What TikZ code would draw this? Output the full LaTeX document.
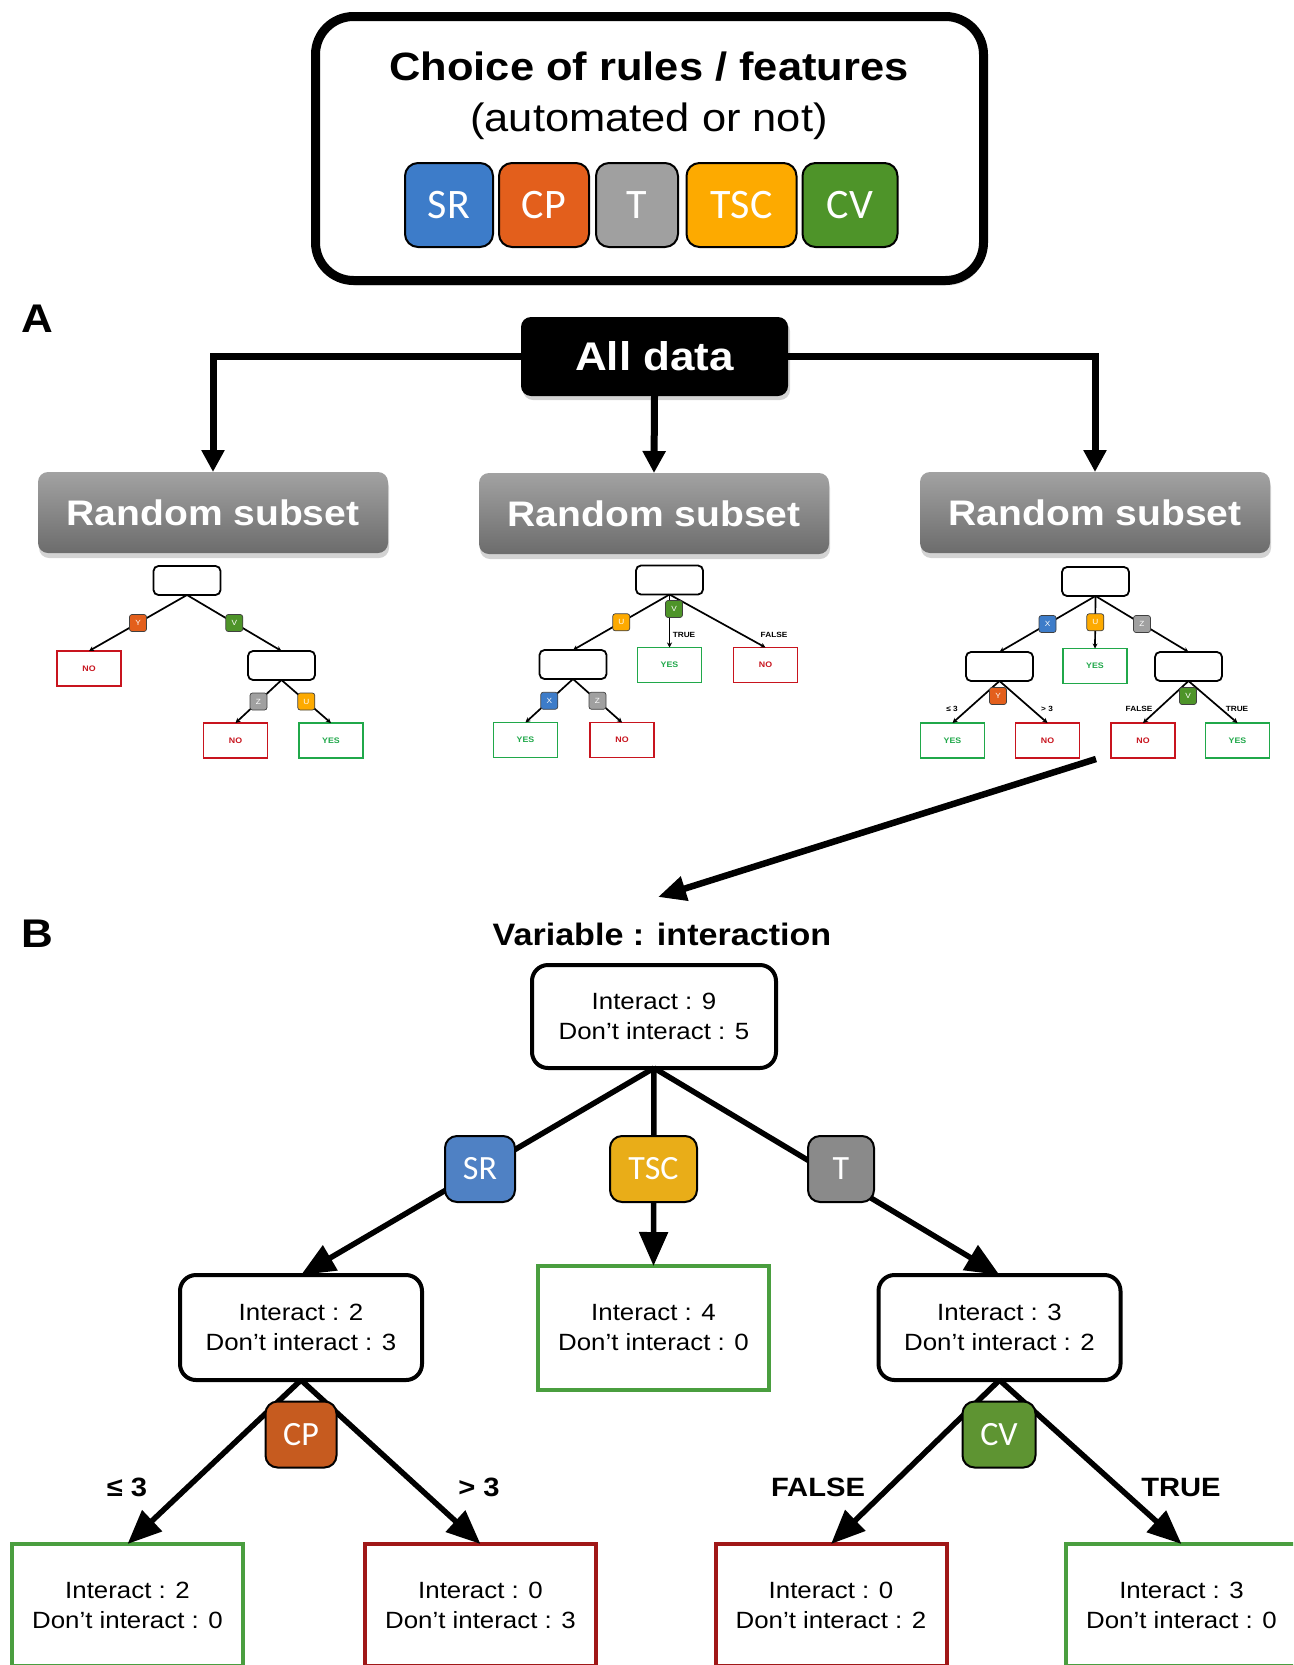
\documentclass[tikz,border=0pt]{standalone}
\usepackage{fontspec}
\setmainfont{Liberation Sans}[FakeStretch=1.1]
\newfontfamily\calib{Carlito}
\usetikzlibrary{arrows.meta,shadows}
\newcommand\myfs[2]{\fontsize{#1}{#2}\selectfont}
\definecolor{sr}{HTML}{3D7CC9}
\definecolor{cp}{HTML}{E35F1C}
\definecolor{tg}{HTML}{A0A0A0}
\definecolor{tsc}{HTML}{FDAA00}
\definecolor{cv}{HTML}{4E9429}
\definecolor{srB}{HTML}{4F81C4}
\definecolor{cpB}{HTML}{C65B1F}
\definecolor{tgB}{HTML}{8A8A8A}
\definecolor{tscB}{HTML}{E9AD18}
\definecolor{cvB}{HTML}{5E9432}
\definecolor{gB}{HTML}{4A9E3F}
\definecolor{rB}{HTML}{A01818}
\definecolor{sNo}{HTML}{C8141E}
\definecolor{sYes}{HTML}{20A84A}
\definecolor{rsTop}{HTML}{A2A2A2}
\definecolor{rsBot}{HTML}{6C6C6C}
\begin{document}
\begin{tikzpicture}[x=1pt,y=-1pt,
  every node/.style={inner sep=0pt, outer sep=0pt},
  topbox/.style={draw, line width=9pt, rounded corners=38pt, fill=white,
    drop shadow={opacity=0.25, shadow xshift=2pt, shadow yshift=-5pt}},
  tlab/.style={draw, line width=2pt, rounded corners=13pt, minimum height=84pt,
    text=white, font=\calib\myfs{42}{42}},
  alld/.style={fill=black, rounded corners=10pt, minimum width=267pt, minimum height=79pt,
    text=white, font=\myfs{40}{40}\bfseries,
    drop shadow={opacity=0.35, shadow xshift=2pt, shadow yshift=-4pt}},
  rsub/.style={rounded corners=10pt, minimum width=350pt, minimum height=81pt,
    top color=rsTop, bottom color=rsBot, text=white, font=\myfs{35.5}{35.5}\bfseries,
    drop shadow={opacity=0.35, shadow xshift=1pt, shadow yshift=-5pt}},
  aA/.style={line width=7pt, -{Triangle[length=22pt,width=22pt]}},
  sroot/.style={draw, line width=1.8pt, rounded corners=5pt, minimum width=67pt,
    minimum height=29pt, fill=white},
  sno/.style={draw=sNo, line width=1.7pt, minimum width=64pt, minimum height=35pt,
    text=sNo, font=\myfs{8}{8}\bfseries, fill=white},
  syes/.style={draw=sYes, line width=1.7pt, minimum width=64pt, minimum height=35pt,
    text=sYes, font=\myfs{8}{8}\bfseries, fill=white},
  slab/.style={draw=black!75, line width=0.7pt, rounded corners=2.5pt, minimum size=17pt,
    text=white, font=\myfs{7.5}{7.5}},
  stxt/.style={font=\myfs{7.5}{7.5}\bfseries},
  sedge/.style={line width=1.7pt, -{Stealth[length=5pt,width=5pt]}},
  bbox/.style={draw, line width=4pt, rounded corners=16pt, fill=white, align=center,
    font=\myfs{23.5}{30}},
  gbox/.style={draw=gB, line width=4pt, fill=white, align=center, font=\myfs{23.5}{30}},
  rbox/.style={draw=rB, line width=4pt, fill=white, align=center, font=\myfs{23.5}{30}},
  blab/.style={draw, line width=2pt, rounded corners=12pt, minimum height=66pt,
    text=white, font=\calib\myfs{34}{34}},
  btxt/.style={font=\myfs{26.5}{26.5}\bfseries},
  bE/.style={line width=5.5pt, -{Triangle[length=34pt,width=28pt]}},
  panel/.style={font=\myfs{40}{40}\bfseries, anchor=base west}
]
\useasboundingbox (0,0) rectangle (1293,1665);
\clip (0,0) rectangle (1293,1665);

% ---------- top box ----------
\node[topbox, minimum width=668pt, minimum height=264pt] (top) at (649.5,148.5) {};
\node[anchor=base, font=\myfs{39.5}{45}\bfseries] (title) at (649,80) {Choice of rules / features};
\node[anchor=base, font=\myfs{39.5}{45}] (subtitle) at (649,131) {(automated or not)};
\node[tlab, fill=sr, minimum width=88pt] (tSR) at (449,205) {SR};
\node[tlab, fill=cp, minimum width=90pt] (tCP) at (544,205) {CP};
\node[tlab, fill=tg, minimum width=82pt] (tT) at (637,205) {T};
\node[tlab, fill=tsc, minimum width=110pt] (tTSC) at (741.5,205) {TSC};
\node[tlab, fill=cv, minimum width=95pt] (tCV) at (850,205) {CV};

% ---------- section A ----------
\node[panel] (labA) at (21,332) {A};
\node[alld] (all) at (654.5,356.5) {All data};
\node[rsub] (rs1) at (213,512.5) {Random subset};
\node[rsub] (rs2) at (654,513.5) {Random subset};
\node[rsub] (rs3) at (1095,512.5) {Random subset};
\draw[aA] (all.west) -| (rs1.north);
\draw[aA] (all.east) -| (rs3.north);
\draw[aA] (all.south) -- (rs2.north);

% tree 1
\node[sroot] (r1) at (187,580.5) {};
\node[sno] (t1a) at (89,668.5) {NO};
\node[sroot] (m1) at (281.5,665.5) {};
\node[sno] (t1b) at (235.5,740.5) {NO};
\node[syes] (t1c) at (331,740.5) {YES};
\draw[sedge] (r1.south) -- node[slab,fill=cp] (l1y) {Y} (t1a.north);
\draw[sedge] (r1.south) -- node[slab,fill=cv] (l1v) {V} (m1.north);
\draw[sedge] (m1.south) -- node[slab,fill=tg] (l1z) {Z} (t1b.north);
\draw[sedge] (m1.south) -- node[slab,fill=tsc] (l1u) {U} (t1c.north);

% tree 2
\node[sroot] (r2) at (669.5,580) {};
\node[sroot] (m2) at (573,664.5) {};
\node[syes] (t2a) at (669.5,665) {YES};
\node[sno] (t2b) at (765.5,665) {NO};
\node[syes] (t2c) at (525.5,740) {YES};
\node[sno] (t2d) at (622,740) {NO};
\draw[sedge] (r2.south) -- node[slab,fill=tsc] (l2u) {U} (m2.north);
\draw[sedge] (r2.south) -- (t2a.north);
\draw[sedge] (r2.south) -- (t2b.north);
\node[slab,fill=cv] (l2v) at (674,609) {V};
\node[stxt] (l2true) at (684,635) {TRUE};
\node[stxt] (l2false) at (774,635) {FALSE};
\draw[sedge] (m2.south) -- node[slab,fill=sr] (l2x) {X} (t2c.north);
\draw[sedge] (m2.south) -- node[slab,fill=tg] (l2z) {Z} (t2d.north);

% tree 3
\node[sroot] (r3) at (1095.5,581.5) {};
\node[sroot] (l3) at (999.5,666.5) {};
\node[syes] (y3) at (1095,666) {YES};
\node[sroot] (rr3) at (1188.5,666.5) {};
\node[syes] (t3a) at (952.5,740.5) {YES};
\node[sno] (t3b) at (1047.5,740.5) {NO};
\node[sno] (t3c) at (1143,740.5) {NO};
\node[syes] (t3d) at (1237.5,740.5) {YES};
\draw[sedge] (r3.south) -- node[slab,fill=sr] (l3x) {X} (l3.north);
\draw[sedge] (r3.south) -- node[slab,fill=tsc] (l3u) {U} (y3.north);
\draw[sedge] (r3.south) -- node[slab,fill=tg] (l3z) {Z} (rr3.north);
\draw[sedge] (l3.south) -- (t3a.north);
\draw[sedge] (l3.south) -- (t3b.north);
\draw[sedge] (rr3.south) -- (t3c.north);
\draw[sedge] (rr3.south) -- (t3d.north);
\node[slab,fill=cp] (l3y) at (998,696) {Y};
\node[slab,fill=cv] (l3v) at (1188,696) {V};
\node[stxt] (l3le) at (952,709) {≤ 3};
\node[stxt] (l3gt) at (1047,709) {> 3};
\node[stxt] (l3false) at (1139,709) {FALSE};
\node[stxt] (l3true) at (1237,709) {TRUE};

% big arrow
\coordinate (bigS) at (1096,759);
\coordinate (bigE) at (658,897);
\draw[line width=6.5pt, -{Triangle[length=28pt,width=24pt]}] (bigS) -- (bigE);

% ---------- section B ----------
\node[panel] (labB) at (21,947) {B};
\node[anchor=base, font=\myfs{31}{31}\bfseries] (var) at (662,945) {Variable : interaction};
\node[bbox, minimum width=244pt, minimum height=103pt] (root) at (654,1016.5) {Interact : 9\\Don’t interact : 5};
\node[bbox, minimum width=242pt, minimum height=105pt] (ln) at (301,1327.5) {Interact : 2\\Don’t interact : 3};
\node[gbox, minimum width=231pt, minimum height=124pt] (mn) at (653.5,1328) {Interact : 4\\Don’t interact : 0};
\node[bbox, minimum width=242pt, minimum height=105pt] (rn) at (999.5,1327.5) {Interact : 3\\Don’t interact : 2};
\node[gbox, minimum width=231pt, minimum height=122pt] (b1) at (127.5,1605) {Interact : 2\\Don’t interact : 0};
\node[rbox, minimum width=231pt, minimum height=122pt] (b2) at (480.5,1605) {Interact : 0\\Don’t interact : 3};
\node[rbox, minimum width=231pt, minimum height=122pt] (b3) at (831,1605) {Interact : 0\\Don’t interact : 2};
\node[gbox, minimum width=231pt, minimum height=122pt] (b4) at (1181.5,1605) {Interact : 3\\Don’t interact : 0};

\draw[bE] (root.south) -- (ln.north);
\draw[bE] (root.south) -- (mn.north);
\draw[bE] (root.south) -- (rn.north);
\node[blab, fill=srB, minimum width=70pt] (bSR) at (480,1169) {SR};
\node[blab, fill=tscB, minimum width=87pt] (bTSC) at (653.5,1169) {TSC};
\node[blab, fill=tgB, minimum width=66pt] (bT) at (841,1169) {T};

\draw[bE] (ln.south) -- (b1.north);
\draw[bE] (ln.south) -- (b2.north);
\draw[bE] (rn.south) -- (b3.north);
\draw[bE] (rn.south) -- (b4.north);
\node[blab, fill=cpB, minimum width=71pt] (bCP) at (301,1434.5) {CP};
\node[blab, fill=cvB, minimum width=73pt] (bCV) at (999,1434.5) {CV};
\node[btxt] (ble) at (127,1487) {≤ 3};
\node[btxt] (bgt) at (479,1487) {> 3};
\node[btxt] (bfalse) at (818,1487) {FALSE};
\node[btxt] (btrue) at (1181,1487) {TRUE};
\end{tikzpicture}
\end{document}
